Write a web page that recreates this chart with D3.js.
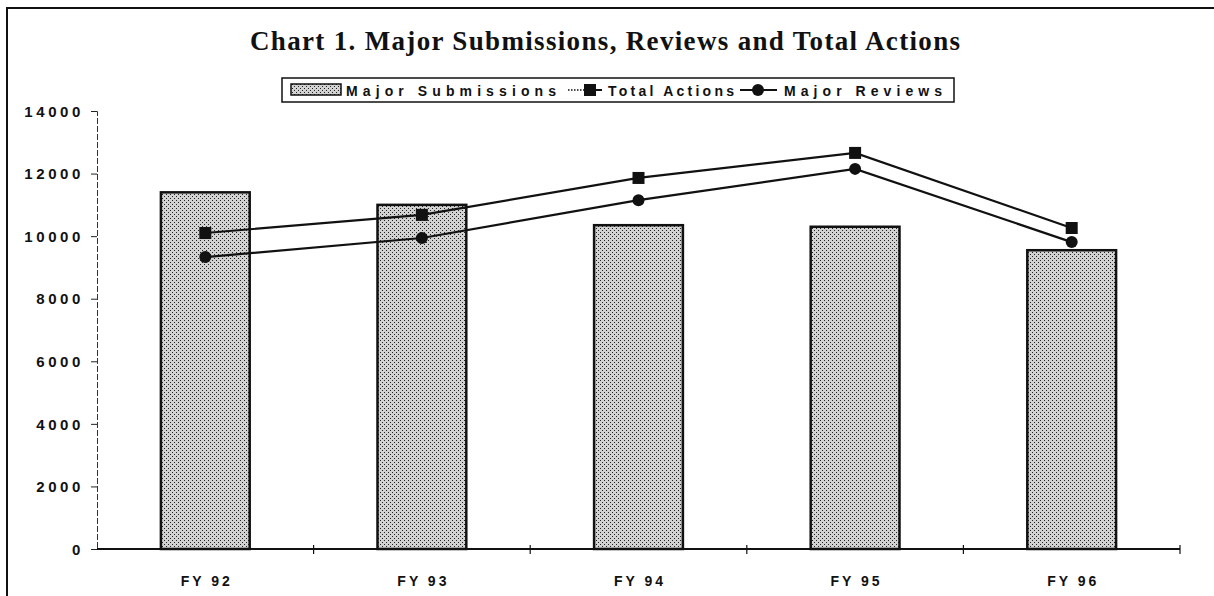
<!DOCTYPE html>
<html>
<head>
<meta charset="utf-8">
<script src="https://cdn.jsdelivr.net/npm/d3@7"></script>
<style>
  body { margin: 0; background: #fff; }
  .lbl { font-family: "Liberation Sans", Arial, sans-serif; font-weight: bold; fill: #111; }
</style>
</head>
<body>
<svg id="chart" width="1214" height="596"></svg>
<script>
const years = ["FY 92", "FY 93", "FY 94", "FY 95", "FY 96"];
const submissions = [11400, 11000, 10350, 10300, 9550];
const totalActions = [10100, 10680, 11860, 12660, 10260];
const majorReviews = [9330, 9940, 11150, 12150, 9810];
const yTicks = [0, 2000, 4000, 6000, 8000, 10000, 12000, 14000];

const svg = d3.select("#chart");

// stipple fill for the bars
const defs = svg.append("defs");
const pat = defs.append("pattern").attr("id", "dots")
    .attr("patternUnits", "userSpaceOnUse").attr("width", 4).attr("height", 4);
pat.append("rect").attr("width", 4).attr("height", 4).attr("fill", "#d2d2d2");
pat.append("rect").attr("x", 0).attr("y", 0).attr("width", 1).attr("height", 1).attr("fill", "#222");
pat.append("rect").attr("x", 2).attr("y", 2).attr("width", 1).attr("height", 1).attr("fill", "#222");

// frame
svg.append("path").attr("d", "M7,596 V8 H1214").attr("fill", "none")
    .attr("stroke", "#111").attr("stroke-width", 2);

// title
svg.append("text").attr("x", 250).attr("y", 50)
    .style("font-family", "'Liberation Serif', 'Times New Roman', serif")
    .style("font-weight", "bold").style("font-size", "27px").attr("fill", "#111")
    .attr("textLength", 710).attr("lengthAdjust", "spacing")
    .text("Chart 1.  Major Submissions, Reviews and Total Actions");

const x = d3.scaleBand().domain(years).range([97, 1180]).paddingInner(0.59).paddingOuter(0.295);
const y = d3.scaleLinear().domain([0, 14000]).range([549, 111]);

// y axis
const yAxis = svg.append("g").attr("transform", "translate(97,0)")
    .call(d3.axisLeft(y).tickValues(yTicks).tickSize(6).tickPadding(7).tickFormat(d3.format("d")));
yAxis.select(".domain").attr("stroke", "#333").attr("stroke-width", 1).attr("stroke-dasharray", "6,2");
yAxis.selectAll(".tick line").attr("stroke", "#222");
yAxis.selectAll(".tick text").attr("class", "lbl").style("font-size", "15px")
    .style("letter-spacing", "3.6px").attr("dy", "0.35em");

// x axis with ticks on band boundaries
const xAxisG = svg.append("g");
xAxisG.append("line").attr("x1", 97).attr("x2", 1180).attr("y1", y(0)).attr("y2", y(0))
    .attr("stroke", "#111").attr("stroke-width", 2);
const bounds = years.map(d => x(d) - x.step() * x.paddingInner() / 2).slice(1).concat([1180]);
xAxisG.selectAll(".xt").data(bounds).enter().append("line")
    .attr("x1", d => d).attr("x2", d => d).attr("y1", y(0) - 4).attr("y2", y(0) + 5)
    .attr("stroke", "#111").attr("stroke-width", 1.2);
xAxisG.selectAll(".xl").data(years).enter().append("text").attr("class", "lbl")
    .attr("x", d => x(d) + x.bandwidth() / 2 + 1.5).attr("y", 586).attr("text-anchor", "middle")
    .style("font-size", "14px").style("letter-spacing", "3px").text(d => d);

// bars
svg.append("g").selectAll("rect").data(submissions).enter().append("rect")
    .attr("x", (d, i) => x(years[i])).attr("width", x.bandwidth())
    .attr("y", d => y(d)).attr("height", d => y(0) - y(d))
    .attr("fill", "url(#dots)").attr("stroke", "#111").attr("stroke-width", 2.5);

const cx = i => x(years[i]) + x.bandwidth() / 2;
const line = arr => d3.line().x((d, i) => cx(i)).y(d => y(d))(arr);

// lines
svg.append("path").attr("d", line(totalActions)).attr("fill", "none")
    .attr("stroke", "#111").attr("stroke-width", 2.2);
svg.append("path").attr("d", line(majorReviews)).attr("fill", "none")
    .attr("stroke", "#111").attr("stroke-width", 2.2);

svg.append("g").selectAll("rect").data(totalActions).enter().append("rect")
    .attr("x", (d, i) => cx(i) - 6).attr("y", d => y(d) - 6)
    .attr("width", 12).attr("height", 12).attr("fill", "#111");
svg.append("g").selectAll("circle").data(majorReviews).enter().append("circle")
    .attr("cx", (d, i) => cx(i)).attr("cy", d => y(d)).attr("r", 6).attr("fill", "#111");

// legend
const lg = svg.append("g");
lg.append("rect").attr("x", 282).attr("y", 78).attr("width", 672).attr("height", 24)
    .attr("fill", "#fff").attr("stroke", "#111").attr("stroke-width", 1.5);
lg.append("rect").attr("x", 291).attr("y", 84).attr("width", 50).attr("height", 11)
    .attr("fill", "url(#dots)").attr("stroke", "#111").attr("stroke-width", 1.5);
lg.append("text").attr("class", "lbl").attr("x", 346).attr("y", 96)
    .style("font-size", "14px").attr("textLength", 210).attr("lengthAdjust", "spacing")
    .text("Major Submissions");
lg.append("line").attr("x1", 568).attr("x2", 586).attr("y1", 90).attr("y2", 90)
    .attr("stroke", "#111").attr("stroke-width", 1.5).attr("stroke-dasharray", "1.5,1.5");
lg.append("line").attr("x1", 586).attr("x2", 602).attr("y1", 90).attr("y2", 90)
    .attr("stroke", "#111").attr("stroke-width", 2);
lg.append("rect").attr("x", 584).attr("y", 84).attr("width", 12).attr("height", 12).attr("fill", "#111");
lg.append("text").attr("class", "lbl").attr("x", 608).attr("y", 96)
    .style("font-size", "14px").attr("textLength", 126).attr("lengthAdjust", "spacing")
    .text("Total Actions");
lg.append("line").attr("x1", 740).attr("x2", 777).attr("y1", 90).attr("y2", 90)
    .attr("stroke", "#111").attr("stroke-width", 2);
lg.append("circle").attr("cx", 758).attr("cy", 90).attr("r", 6).attr("fill", "#111");
lg.append("text").attr("class", "lbl").attr("x", 784).attr("y", 96)
    .style("font-size", "14px").attr("textLength", 158).attr("lengthAdjust", "spacing")
    .text("Major Reviews");
</script>
</body>
</html>
